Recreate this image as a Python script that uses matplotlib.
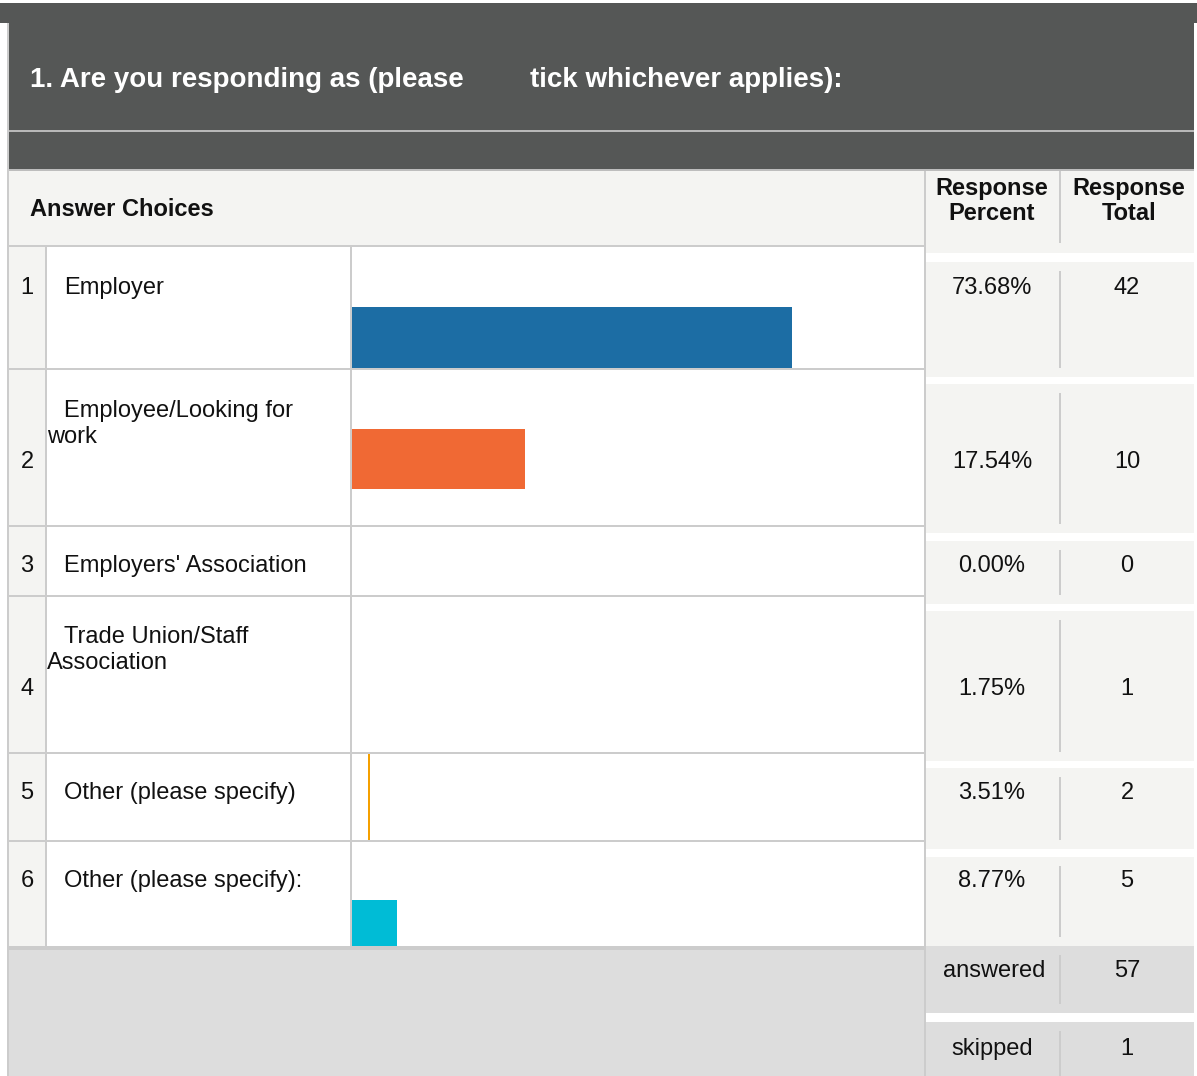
import matplotlib
matplotlib.use("Agg")
import matplotlib.pyplot as plt
from matplotlib.patches import Rectangle

# survey data
choices = ["Employer", "Employee/Looking for\nwork", "Employers' Association",
           "Trade Union/Staff\nAssociation", "Other (please specify)", "Other (please specify):"]
percents = ["73.68%", "17.54%", "0.00%", "1.75%", "3.51%", "8.77%"]
totals = [42, 10, 0, 1, 2, 5]
answered = 57
skipped = 1
# bar extent as drawn in the picture (% of the bar column)
bar_start = [0, 0, 0, 0, 2.8, 0]
bar_len = [76.8, 30.2, 0, 0, 0.35, 7.9]
bar_colors = ["#1c6da4", "#f06934", "#f26a35", "#f26a35", "#f5a000", "#00bcd6"]

W, H = 1197, 1076
DARK = "#555756"
LIGHT = "#f4f4f2"
LINE = "#cccccc"
GREY = "#dddddd"

plt.rcParams["font.family"] = ["Liberation Sans", "DejaVu Sans"]
fig = plt.figure(figsize=(W / 100, H / 100), dpi=100)
ax = fig.add_axes([0, 0, 1, 1])
ax.set_xlim(0, W)
ax.set_ylim(H, 0)
ax.axis("off")

def box(x0, y0, x1, y1, c):
    ax.add_patch(Rectangle((x0, y0), x1 - x0, y1 - y0, facecolor=c, edgecolor="none", lw=0))

# header
box(0, 3, W, 170, DARK)
box(0, 23, 7, H, "white")
box(7, 23, 9, H, LINE)
box(1194, 23, W, H, "white")
box(9, 130, 1194, 132, "#b8b8b8")
box(9, 169, 1194, 171, "#bdbdbd")
ax.text(30, 80, "1. Are you responding as (please", color="white", fontsize=20,
        fontweight="bold", va="center", ha="left")
ax.text(530, 80, "tick whichever applies):", color="white", fontsize=20,
        fontweight="bold", va="center", ha="left")

# column header
box(9, 171, 1194, 253, LIGHT)
ax.text(30, 210, "Answer Choices", fontsize=17, fontweight="bold", va="center", color="#111111")
ax.text(992, 201, "Response\nPercent", fontsize=17, fontweight="bold", va="center",
        ha="center", linespacing=1.12, color="#111111")
ax.text(1129, 201, "Response\nTotal", fontsize=17, fontweight="bold", va="center",
        ha="center", linespacing=1.12, color="#111111")
box(1059, 171, 1061, 243, LINE)

# left table rows
row_edges = [246, 369, 526, 596, 753, 841, 948]
for i in range(6):
    y0, y1 = row_edges[i], row_edges[i + 1]
    box(9, y0, 45, y1, LIGHT)
    box(47, y0, 925, y1, "white")
for y in row_edges[:-1]:
    box(9, y - 1, 925, y + 1, LINE)
box(45, 246, 47, 948, LINE)
box(350, 246, 352, 948, LINE)
box(9, 946, 925, 950, LINE)
box(9, 950, 925, H, GREY)
box(924, 171, 926, H, LINE)

num_y = [288, 462, 566, 689, 793, 881]
label_y = [288, 424, 566, 650, 793, 881]
for i, lab in enumerate(choices):
    ax.text(27, num_y[i], str(i + 1), fontsize=17, va="center", ha="center", color="#111111")
    if "\n" in lab:
        first, second = lab.split("\n")
        ax.text(64, label_y[i] - 13, first, fontsize=17, va="center", color="#111111")
        ax.text(47, label_y[i] + 13, second, fontsize=17, va="center", color="#111111")
    else:
        ax.text(64, label_y[i], lab, fontsize=17, va="center", color="#111111")

# right blocks
blocks = [(262, 377), (384, 533), (541, 604), (611, 761), (768, 849), (857, 946)]
box(926, 253, 1194, 262, "white")
for (b0, b1) in blocks:
    box(926, b0, 1194, b1, LIGHT)
for k in range(len(blocks) - 1):
    box(926, blocks[k][1], 1194, blocks[k + 1][0], "white")
for (b0, b1) in blocks:
    box(1059, b0 + 9, 1061, b1 - 9, LINE)
for i in range(6):
    ax.text(992, num_y[i], percents[i], fontsize=17, va="center", ha="center", color="#111111")
    ax.text(1127, num_y[i], str(totals[i]), fontsize=17, va="center", ha="center", color="#111111")

box(926, 946, 1194, 1013, GREY)
box(926, 1013, 1194, 1022, "white")
box(926, 1022, 1194, H, GREY)
box(1059, 955, 1061, 1004, LINE)
box(1059, 1031, 1061, H, LINE)
ax.text(994, 971, "answered", fontsize=17, va="center", ha="center", color="#111111")
ax.text(1127, 971, str(answered), fontsize=17, va="center", ha="center", color="#111111")
ax.text(992, 1049, "skipped", fontsize=17, va="center", ha="center", color="#111111")
ax.text(1127, 1049, str(skipped), fontsize=17, va="center", ha="center", color="#111111")

# bars
bar_top = [307, 429, 560, 680, 754, 900]
bar_bot = [368, 489, 560, 680, 840, 946]
bx = fig.add_axes([352 / W, 0, (925 - 352) / W, 1])
bx.set_xlim(0, 100)
bx.set_ylim(H, 0)
bx.axis("off")
bx.patch.set_alpha(0)
centers = [(t + b) / 2 for t, b in zip(bar_top, bar_bot)]
heights = [b - t for t, b in zip(bar_top, bar_bot)]
bx.barh(centers, bar_len, height=heights, left=bar_start, color=bar_colors, linewidth=0)

fig.savefig("out.png", dpi=100)
